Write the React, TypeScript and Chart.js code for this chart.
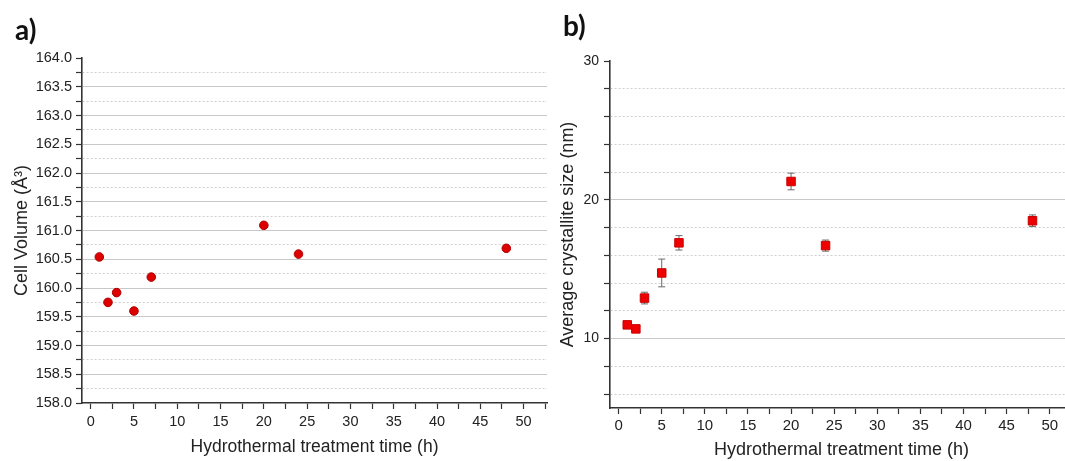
import React, { useEffect, useRef } from "react";
import { Chart, registerables } from "chart.js";

Chart.register(...registerables);

// ---------- data ----------
const hoursA = [1, 2, 3, 5, 7, 20, 24, 48];
const cellVolume = [160.54, 159.75, 159.92, 159.6, 160.19, 161.09, 160.59, 160.69];

const hoursB = [1, 2, 3, 5, 7, 20, 24, 48];
const crystalliteSize = [10.99, 10.7, 12.92, 14.73, 16.9, 21.32, 16.7, 18.49];
const crystalliteErr = [0.2, 0.2, 0.42, 1.0, 0.52, 0.6, 0.4, 0.42];

const xTicks = [0, 2.5, 5, 7.5, 10, 12.5, 15, 17.5, 20, 22.5, 25, 27.5, 30, 32.5, 35, 37.5, 40, 42.5, 45, 47.5, 50, 52.5];
const leftYTicks = [
  158, 158.25, 158.5, 158.75, 159, 159.25, 159.5, 159.75, 160, 160.25, 160.5, 160.75,
  161, 161.25, 161.5, 161.75, 162, 162.25, 162.5, 162.75, 163, 163.25, 163.5, 163.75, 164,
];
const rightYTicks = [6, 8, 10, 12, 14, 16, 18, 20, 22, 24, 26, 28, 30];

const xTitle = "Hydrothermal treatment time (h)";
const leftYTitle = "Cell Volume (Å³)";
const rightYTitle = "Average crystallite size (nm)";

const FONT = "'Liberation Sans', Arial, Helvetica, sans-serif";
const AXIS = "#333333";
const TEXT = "#222222";
const MAJOR_GRID = "#c8c8c8";
const MINOR_GRID = "#cfcfcf";

const errorBarPlugin = {
  id: "errorBars",
  beforeDatasetsDraw(chart: any) {
    const errs = chart.options.plugins.errorBars?.errors as number[] | undefined;
    if (!errs) return;
    const { ctx, scales } = chart;
    const ds = chart.data.datasets[0];
    ctx.save();
    ctx.strokeStyle = "#6a6a6a";
    ctx.lineWidth = 1;
    ds.data.forEach((p: any, i: number) => {
      const x = scales.x.getPixelForValue(p.x);
      const y1 = scales.y.getPixelForValue(p.y - errs[i]);
      const y2 = scales.y.getPixelForValue(p.y + errs[i]);
      ctx.beginPath();
      ctx.moveTo(x, y1);
      ctx.lineTo(x, y2);
      ctx.moveTo(x - 3.5, y1);
      ctx.lineTo(x + 3.5, y1);
      ctx.moveTo(x - 3.5, y2);
      ctx.lineTo(x + 3.5, y2);
      ctx.stroke();
    });
    ctx.restore();
  },
};

function xScale(tickSize: number, titleSize: number, titleBottom: number, height: number, pad: number) {
  return {
    type: "linear",
    min: -1,
    max: 52.7,
    afterBuildTicks: (s: any) => {
      s.ticks = xTicks.map((v) => ({ value: v }));
    },
    afterFit: (s: any) => {
      s.height = height;
    },
    ticks: {
      autoSkip: false,
      maxRotation: 0,
      padding: pad,
      color: TEXT,
      font: { family: FONT, size: tickSize },
      callback: (v: any) => (Math.abs(v % 5) < 1e-9 ? String(v) : ""),
    },
    grid: {
      drawOnChartArea: false,
      drawTicks: true,
      tickLength: 6,
      tickColor: AXIS,
      tickWidth: 1.2,
    },
    border: { display: true, color: AXIS, width: 1.6 },
    title: {
      display: true,
      text: xTitle,
      color: TEXT,
      font: { family: FONT, size: titleSize },
      padding: { top: 0, bottom: titleBottom },
    },
  };
}

function makeLeft(canvas: HTMLCanvasElement) {
  return new Chart(canvas, {
    type: "scatter",
    data: {
      datasets: [
        {
          data: hoursA.map((x, i) => ({ x, y: cellVolume[i] })),
          pointStyle: "circle",
          pointRadius: 4.3,
          pointHoverRadius: 4.3,
          backgroundColor: "#dc0000",
          borderColor: "#b00000",
          borderWidth: 1,
        },
      ],
    },
    options: {
      responsive: false,
      animation: false,
      events: [],
      layout: { padding: { top: 58, left: 0, right: 13, bottom: 0 } },
      plugins: { legend: { display: false }, tooltip: { enabled: false } },
      scales: {
        x: xScale(14.5, 17.5, 3, 58, 4) as any,
        y: {
          type: "linear",
          min: 158,
          max: 164,
          afterBuildTicks: (s: any) => {
            s.ticks = leftYTicks.map((v) => ({ value: v }));
          },
          afterFit: (s: any) => {
            s.width = 82;
          },
          ticks: {
            autoSkip: false,
            padding: 4,
            color: TEXT,
            font: { family: FONT, size: 14.5 },
            callback: (v: any) => (Math.abs(v * 2 - Math.round(v * 2)) < 1e-6 ? Number(v).toFixed(1) : ""),
          },
          grid: {
            drawTicks: true,
            tickLength: 6,
            tickColor: AXIS,
            tickWidth: 1.2,
            lineWidth: 1,
            color: (c: any) => {
              const v = c.tick?.value;
              if (v === undefined) return MAJOR_GRID;
              if (v >= 164 || v <= 158) return "rgba(0,0,0,0)";
              return Math.abs(v * 2 - Math.round(v * 2)) < 1e-6 ? MAJOR_GRID : MINOR_GRID;
            },
          },
          border: {
            display: true,
            color: AXIS,
            width: 1.6,
            dash: (c: any) => {
              const v = c.tick?.value;
              if (v === undefined) return [];
              return Math.abs(v * 2 - Math.round(v * 2)) < 1e-6 ? [] : [2, 2];
            },
          },
          title: {
            display: true,
            text: leftYTitle,
            color: TEXT,
            font: { family: FONT, size: 18 },
            padding: { top: 11, bottom: 0 },
          },
        } as any,
      },
    },
  });
}

function makeRight(canvas: HTMLCanvasElement) {
  return new Chart(canvas, {
    type: "scatter",
    data: {
      datasets: [
        {
          data: hoursB.map((x, i) => ({ x, y: crystalliteSize[i] })),
          pointStyle: "rect",
          pointRadius: 6,
          pointHoverRadius: 6,
          backgroundColor: "#ee0000",
          borderColor: "#c80000",
          borderWidth: 1,
        },
      ],
    },
    plugins: [errorBarPlugin],
    options: {
      responsive: false,
      animation: false,
      events: [],
      layout: { padding: { top: 61, left: 0, right: 4, bottom: 0 } },
      plugins: {
        legend: { display: false },
        tooltip: { enabled: false },
        errorBars: { errors: crystalliteErr },
      } as any,
      scales: {
        x: xScale(15, 18, 0, 53, 3) as any,
        y: {
          type: "linear",
          min: 5,
          max: 30,
          afterBuildTicks: (s: any) => {
            s.ticks = rightYTicks.map((v) => ({ value: v }));
          },
          afterFit: (s: any) => {
            s.width = 60;
          },
          ticks: {
            autoSkip: false,
            padding: 5,
            color: TEXT,
            font: { family: FONT, size: 14 },
            callback: (v: any) => (v % 10 === 0 ? String(v) : ""),
          },
          grid: {
            drawTicks: true,
            tickLength: 6,
            tickColor: AXIS,
            tickWidth: 1.2,
            lineWidth: 1,
            color: (c: any) => {
              const v = c.tick?.value;
              if (v === undefined) return MAJOR_GRID;
              if (v >= 30) return "rgba(0,0,0,0)";
              return v % 10 === 0 ? MAJOR_GRID : MINOR_GRID;
            },
          },
          border: {
            display: true,
            color: AXIS,
            width: 1.6,
            dash: (c: any) => {
              const v = c.tick?.value;
              if (v === undefined) return [];
              return v % 10 === 0 ? [] : [2, 2];
            },
          },
          title: {
            display: true,
            text: rightYTitle,
            color: TEXT,
            font: { family: FONT, size: 18 },
            padding: { top: 7, bottom: 0 },
          },
        } as any,
      },
    },
  });
}

export default function App() {
  const leftRef = useRef<HTMLCanvasElement>(null);
  const rightRef = useRef<HTMLCanvasElement>(null);

  useEffect(() => {
    const a = makeLeft(leftRef.current!);
    const b = makeRight(rightRef.current!);
    return () => {
      a.destroy();
      b.destroy();
    };
  }, []);

  const panelLabel: React.CSSProperties = {
    position: "absolute",
    fontFamily: "Lato, 'Liberation Sans', sans-serif",
    fontWeight: 700,
    fontSize: 28,
    lineHeight: "28px",
    color: "#111",
  };

  return (
    <div
      style={{
        position: "fixed",
        left: 0,
        top: 0,
        width: 1065,
        height: 461,
        overflow: "hidden",
        background: "#ffffff",
      }}
    >
      <canvas
        ref={leftRef}
        width={560}
        height={461}
        style={{ position: "absolute", left: 0, top: 0, width: 560, height: 461 }}
      />
      <canvas
        ref={rightRef}
        width={530}
        height={461}
        style={{ position: "absolute", left: 550, top: 0, width: 530, height: 461 }}
      />
      <div style={{ ...panelLabel, left: 15, top: 15 }}>a)</div>
      <div style={{ ...panelLabel, left: 563, top: 11 }}>b)</div>
    </div>
  );
}
